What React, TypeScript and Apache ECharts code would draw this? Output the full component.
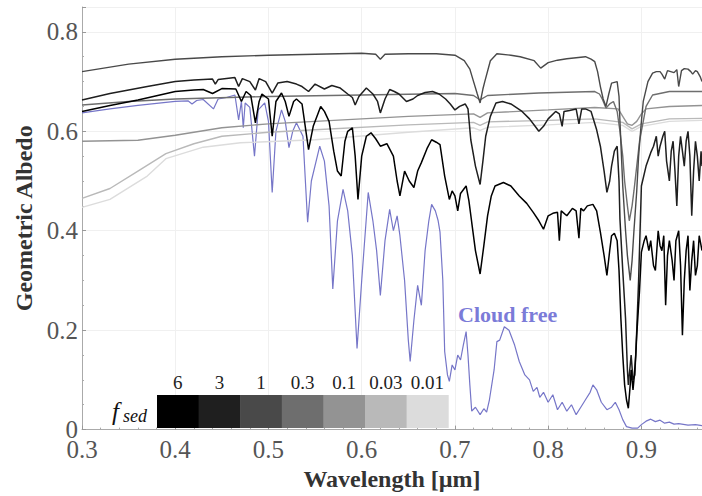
import React, { useEffect, useRef } from "react";
import * as echarts from "echarts";

// [wavelength µm, geometric albedo]
const cloudFree: [number, number][] = [
  [0.30, 0.637], [0.33, 0.645], [0.36, 0.652], [0.40, 0.660], [0.414, 0.661], [0.418, 0.655], [0.423, 0.662],
  [0.43, 0.664], [0.441, 0.645], [0.446, 0.665], [0.455, 0.668], [0.464, 0.673], [0.468, 0.623], [0.471, 0.66],
  [0.473, 0.607], [0.475, 0.657], [0.48, 0.648], [0.485, 0.55], [0.489, 0.643], [0.496, 0.657], [0.50, 0.62],
  [0.504, 0.477], [0.508, 0.60], [0.514, 0.643], [0.518, 0.62], [0.522, 0.567], [0.526, 0.60], [0.53, 0.617],
  [0.537, 0.59], [0.542, 0.417], [0.546, 0.50], [0.555, 0.57], [0.56, 0.54], [0.565, 0.45], [0.569, 0.283],
  [0.574, 0.42], [0.58, 0.483], [0.585, 0.44], [0.59, 0.35], [0.595, 0.163], [0.60, 0.30], [0.607, 0.477],
  [0.612, 0.42], [0.616, 0.36], [0.62, 0.27], [0.625, 0.38], [0.63, 0.443], [0.634, 0.40], [0.638, 0.43],
  [0.641, 0.39], [0.646, 0.30], [0.65, 0.18], [0.652, 0.137], [0.656, 0.22], [0.66, 0.29], [0.664, 0.25],
  [0.668, 0.36], [0.672, 0.42], [0.675, 0.453], [0.679, 0.44], [0.682, 0.42], [0.684, 0.397], [0.687, 0.30],
  [0.689, 0.157], [0.692, 0.11], [0.694, 0.097], [0.697, 0.13], [0.70, 0.12], [0.703, 0.15], [0.706, 0.14],
  [0.709, 0.17], [0.712, 0.197], [0.714, 0.15], [0.716, 0.09], [0.718, 0.037], [0.722, 0.045], [0.727, 0.03],
  [0.731, 0.042], [0.734, 0.035], [0.737, 0.06], [0.742, 0.12], [0.745, 0.177], [0.748, 0.18], [0.753, 0.207],
  [0.758, 0.20], [0.764, 0.17], [0.769, 0.137], [0.775, 0.11], [0.78, 0.10], [0.784, 0.077], [0.788, 0.085],
  [0.791, 0.065], [0.795, 0.075], [0.80, 0.055], [0.805, 0.07], [0.81, 0.04], [0.815, 0.055], [0.82, 0.037],
  [0.825, 0.05], [0.83, 0.03], [0.835, 0.045], [0.84, 0.06], [0.845, 0.075], [0.848, 0.09], [0.852, 0.08],
  [0.857, 0.055], [0.863, 0.04], [0.868, 0.045], [0.872, 0.055], [0.876, 0.04], [0.88, 0.02], [0.884, 0.006],
  [0.89, 0.003], [0.896, 0.003], [0.90, 0.01], [0.905, 0.017], [0.91, 0.021], [0.915, 0.016], [0.92, 0.019],
  [0.925, 0.013], [0.93, 0.015], [0.935, 0.011], [0.94, 0.012], [0.95, 0.009], [0.958, 0.01], [0.965, 0.008],
];

const fsed6: [number, number][] = [
  [0.30, 0.640], [0.33, 0.652], [0.36, 0.663], [0.40, 0.680], [0.42, 0.683], [0.43, 0.684], [0.44, 0.676],
  [0.45, 0.686], [0.465, 0.685], [0.471, 0.660], [0.476, 0.680], [0.481, 0.672], [0.486, 0.617], [0.49, 0.66],
  [0.493, 0.675], [0.50, 0.665], [0.504, 0.590], [0.508, 0.66], [0.514, 0.677], [0.518, 0.66], [0.522, 0.630],
  [0.527, 0.66], [0.53, 0.665], [0.536, 0.655], [0.543, 0.563], [0.548, 0.61], [0.556, 0.650], [0.56, 0.64],
  [0.565, 0.62], [0.57, 0.56], [0.574, 0.52], [0.578, 0.51], [0.582, 0.58], [0.585, 0.60], [0.59, 0.607],
  [0.593, 0.55], [0.596, 0.463], [0.60, 0.55], [0.605, 0.59], [0.61, 0.597], [0.615, 0.585], [0.62, 0.57],
  [0.627, 0.575], [0.634, 0.55], [0.638, 0.50], [0.641, 0.47], [0.646, 0.52], [0.651, 0.50], [0.656, 0.487],
  [0.66, 0.52], [0.664, 0.537], [0.67, 0.565], [0.675, 0.583], [0.68, 0.578], [0.684, 0.573], [0.689, 0.51],
  [0.694, 0.463], [0.697, 0.48], [0.70, 0.47], [0.703, 0.44], [0.706, 0.475], [0.712, 0.49], [0.715, 0.46],
  [0.718, 0.417], [0.722, 0.36], [0.727, 0.313], [0.731, 0.37], [0.735, 0.43], [0.739, 0.47], [0.743, 0.49],
  [0.752, 0.497], [0.76, 0.49], [0.769, 0.47], [0.777, 0.455], [0.784, 0.437], [0.79, 0.42], [0.795, 0.403],
  [0.80, 0.43], [0.805, 0.435], [0.81, 0.437], [0.812, 0.38], [0.814, 0.44], [0.82, 0.43], [0.826, 0.445],
  [0.83, 0.44], [0.833, 0.385], [0.835, 0.445], [0.838, 0.44], [0.842, 0.45], [0.848, 0.453], [0.852, 0.44],
  [0.856, 0.397], [0.86, 0.35], [0.863, 0.31], [0.866, 0.36], [0.868, 0.39], [0.871, 0.395], [0.874, 0.38],
  [0.876, 0.32], [0.878, 0.223], [0.88, 0.15], [0.882, 0.09], [0.884, 0.06], [0.886, 0.043], [0.888, 0.09],
  [0.889, 0.12], [0.891, 0.08], [0.892, 0.10], [0.894, 0.15], [0.895, 0.19], [0.898, 0.28], [0.90, 0.357],
  [0.903, 0.38], [0.905, 0.39], [0.908, 0.36], [0.91, 0.38], [0.913, 0.33], [0.915, 0.32], [0.918, 0.40],
  [0.92, 0.37], [0.922, 0.36], [0.924, 0.39], [0.926, 0.25], [0.928, 0.35], [0.93, 0.38], [0.933, 0.34],
  [0.935, 0.30], [0.937, 0.38], [0.94, 0.40], [0.942, 0.33], [0.944, 0.19], [0.946, 0.30], [0.948, 0.36],
  [0.95, 0.39], [0.952, 0.28], [0.954, 0.34], [0.956, 0.38], [0.958, 0.31], [0.96, 0.33], [0.962, 0.39],
  [0.965, 0.36],
];

const fsed3: [number, number][] = [
  [0.30, 0.663], [0.33, 0.676], [0.37, 0.690], [0.40, 0.700], [0.42, 0.703], [0.44, 0.705], [0.443, 0.695],
  [0.446, 0.704], [0.455, 0.706], [0.464, 0.708], [0.468, 0.69], [0.472, 0.706], [0.48, 0.70], [0.486, 0.683],
  [0.49, 0.706], [0.497, 0.70], [0.504, 0.677], [0.51, 0.697], [0.52, 0.70], [0.53, 0.695], [0.536, 0.69],
  [0.543, 0.68], [0.55, 0.695], [0.56, 0.685], [0.568, 0.692], [0.577, 0.687], [0.585, 0.675], [0.59, 0.668],
  [0.593, 0.653], [0.597, 0.67], [0.605, 0.687], [0.612, 0.675], [0.617, 0.66], [0.62, 0.637], [0.625, 0.665],
  [0.63, 0.684], [0.635, 0.68], [0.64, 0.675], [0.648, 0.66], [0.655, 0.665], [0.66, 0.672], [0.668, 0.678],
  [0.676, 0.68], [0.683, 0.675], [0.69, 0.665], [0.695, 0.655], [0.70, 0.643], [0.705, 0.65], [0.711, 0.655],
  [0.714, 0.645], [0.717, 0.583], [0.722, 0.53], [0.727, 0.493], [0.73, 0.54], [0.733, 0.59], [0.738, 0.63],
  [0.744, 0.657], [0.751, 0.66], [0.76, 0.655], [0.772, 0.64], [0.78, 0.625], [0.786, 0.61], [0.79, 0.60],
  [0.795, 0.61], [0.80, 0.625], [0.808, 0.64], [0.812, 0.635], [0.815, 0.61], [0.817, 0.64], [0.823, 0.642],
  [0.83, 0.645], [0.833, 0.615], [0.836, 0.645], [0.84, 0.645], [0.846, 0.64], [0.852, 0.603], [0.856, 0.57],
  [0.86, 0.52], [0.863, 0.477], [0.866, 0.50], [0.868, 0.53], [0.871, 0.56], [0.874, 0.57], [0.876, 0.50],
  [0.877, 0.423], [0.88, 0.32], [0.883, 0.223], [0.885, 0.12], [0.886, 0.09], [0.888, 0.13], [0.889, 0.15],
  [0.891, 0.10], [0.893, 0.11], [0.895, 0.20], [0.897, 0.30], [0.90, 0.49], [0.905, 0.53], [0.91, 0.557],
  [0.913, 0.57], [0.916, 0.59], [0.918, 0.55], [0.92, 0.57], [0.923, 0.59], [0.925, 0.60], [0.927, 0.54],
  [0.93, 0.50], [0.932, 0.56], [0.934, 0.58], [0.936, 0.52], [0.938, 0.45], [0.94, 0.55], [0.942, 0.59],
  [0.944, 0.56], [0.946, 0.53], [0.948, 0.58], [0.95, 0.60], [0.952, 0.55], [0.954, 0.43], [0.956, 0.52],
  [0.958, 0.58], [0.96, 0.55], [0.962, 0.50], [0.964, 0.56], [0.965, 0.53],
];

const fsed1: [number, number][] = [
  [0.30, 0.720], [0.35, 0.735], [0.40, 0.745], [0.45, 0.750], [0.50, 0.753], [0.55, 0.755], [0.60, 0.757],
  [0.615, 0.755], [0.62, 0.745], [0.625, 0.755], [0.65, 0.756], [0.68, 0.756], [0.70, 0.753], [0.71, 0.742],
  [0.716, 0.725], [0.72, 0.700], [0.724, 0.675], [0.727, 0.657], [0.73, 0.685], [0.732, 0.700], [0.738, 0.742],
  [0.745, 0.756], [0.76, 0.753], [0.77, 0.750], [0.785, 0.742], [0.792, 0.727], [0.80, 0.738], [0.81, 0.743],
  [0.82, 0.746], [0.83, 0.748], [0.84, 0.750], [0.846, 0.745], [0.85, 0.740], [0.853, 0.72], [0.856, 0.690],
  [0.859, 0.665], [0.862, 0.650], [0.865, 0.675], [0.868, 0.697], [0.874, 0.700], [0.876, 0.67], [0.877, 0.62],
  [0.88, 0.49], [0.883, 0.40], [0.885, 0.35], [0.888, 0.30], [0.89, 0.34], [0.892, 0.40], [0.895, 0.48],
  [0.897, 0.55], [0.90, 0.62], [0.902, 0.66], [0.907, 0.70], [0.912, 0.717], [0.916, 0.72], [0.92, 0.72],
  [0.922, 0.715], [0.925, 0.705], [0.928, 0.722], [0.935, 0.718], [0.938, 0.724], [0.94, 0.69], [0.943, 0.722],
  [0.946, 0.726], [0.95, 0.725], [0.953, 0.72], [0.955, 0.715], [0.958, 0.722], [0.96, 0.72], [0.963, 0.71],
  [0.965, 0.70],
];

const fsed03: [number, number][] = [
  [0.30, 0.653], [0.35, 0.660], [0.40, 0.665], [0.50, 0.670], [0.60, 0.673], [0.70, 0.676], [0.72, 0.672],
  [0.727, 0.663], [0.735, 0.672], [0.79, 0.677], [0.85, 0.680], [0.855, 0.675], [0.858, 0.665], [0.862, 0.647],
  [0.866, 0.655], [0.87, 0.66], [0.874, 0.64], [0.877, 0.60], [0.88, 0.55], [0.882, 0.50], [0.885, 0.45],
  [0.887, 0.42], [0.89, 0.45], [0.892, 0.48], [0.895, 0.53], [0.898, 0.58], [0.902, 0.62], [0.905, 0.65],
  [0.912, 0.673], [0.93, 0.68], [0.965, 0.68],
];

const fsed01: [number, number][] = [
  [0.30, 0.580], [0.36, 0.582], [0.40, 0.592], [0.45, 0.607], [0.50, 0.615], [0.55, 0.620], [0.65, 0.630],
  [0.72, 0.635], [0.727, 0.628], [0.735, 0.637], [0.80, 0.643], [0.85, 0.648], [0.875, 0.645], [0.88, 0.63],
  [0.885, 0.615], [0.89, 0.612], [0.895, 0.62], [0.90, 0.635], [0.905, 0.645], [0.93, 0.650], [0.965, 0.652],
];

const fsed003: [number, number][] = [
  [0.30, 0.465], [0.33, 0.485], [0.36, 0.520], [0.39, 0.555], [0.42, 0.575], [0.45, 0.590], [0.50, 0.598],
  [0.55, 0.603], [0.65, 0.613], [0.72, 0.618], [0.727, 0.612], [0.735, 0.619], [0.80, 0.622], [0.85, 0.625],
  [0.88, 0.618], [0.89, 0.605], [0.90, 0.615], [0.93, 0.625], [0.965, 0.626],
];

const fsed001: [number, number][] = [
  [0.30, 0.447], [0.33, 0.463], [0.37, 0.510], [0.39, 0.545], [0.43, 0.568], [0.47, 0.577], [0.55, 0.583],
  [0.65, 0.598], [0.72, 0.607], [0.727, 0.602], [0.735, 0.608], [0.80, 0.613], [0.85, 0.618], [0.88, 0.612],
  [0.89, 0.600], [0.90, 0.610], [0.93, 0.620], [0.965, 0.622],
];

const fsedLabels = ["6", "3", "1", "0.3", "0.1", "0.03", "0.01"];
const fsedColors = ["#000000", "#1f1f1f", "#494949", "#6e6e6e", "#939393", "#b9b9b9", "#dcdcdc"];
const fsedSeries = [fsed6, fsed3, fsed1, fsed03, fsed01, fsed003, fsed001];
const xTicks = [0.3, 0.4, 0.5, 0.6, 0.7, 0.8, 0.9];
const yTicks = [0, 0.2, 0.4, 0.6, 0.8];

const FONT = "'Liberation Serif', 'DejaVu Serif', serif";
const BLUE = "#7676c8";

export default function App() {
  const ref = useRef<HTMLDivElement>(null);
  useEffect(() => {
    if (!ref.current) return;
    const chart = echarts.init(ref.current, null, { renderer: "svg" });

    const series: any[] = [];
    series.push({
      type: "line",
      name: "Cloud free",
      data: cloudFree,
      showSymbol: false,
      symbol: "none",
      lineStyle: { color: BLUE, width: 1.2 },
      z: 1,
    });
    // draw lightest first
    for (let i = fsedSeries.length - 1; i >= 0; i--) {
      series.push({
        type: "line",
        name: "fsed " + fsedLabels[i],
        data: fsedSeries[i],
        showSymbol: false,
        symbol: "none",
        lineStyle: { color: fsedColors[i], width: i <= 1 ? 1.5 : 1.4 },
        z: 2 + (fsedSeries.length - i),
      });
    }

    const cellW = 41.6;
    const legLeft = 157;
    const legTop = 395;
    const legendEls: any[] = [];
    fsedLabels.forEach((lab, i) => {
      legendEls.push({
        type: "rect",
        shape: { x: legLeft + i * cellW, y: legTop, width: cellW + 0.5, height: 33 },
        style: { fill: fsedColors[i] },
        z: 100,
      });
      legendEls.push({
        type: "text",
        x: legLeft + i * cellW + cellW / 2,
        y: 382,
        style: {
          text: lab,
          font: `19px ${FONT}`,
          fill: "#222",
          align: "center",
          verticalAlign: "middle",
        },
        z: 100,
      });
    });
    legendEls.push({
      type: "text",
      x: 112,
      y: 424,
      style: { text: "f", font: `italic 25px ${FONT}`, fill: "#111", align: "left", verticalAlign: "bottom" },
      z: 100,
    });
    legendEls.push({
      type: "text",
      x: 123,
      y: 425,
      style: { text: "sed", font: `italic 18px ${FONT}`, fill: "#111", align: "left", verticalAlign: "bottom" },
      z: 100,
    });
    legendEls.push({
      type: "text",
      x: 458,
      y: 314,
      style: { text: "Cloud free", font: `bold 22px ${FONT}`, fill: "#7b7bd8", align: "left", verticalAlign: "middle" },
      z: 100,
    });

    chart.setOption({
      animation: false,
      backgroundColor: "#ffffff",
      grid: { left: 82, right: 0, top: 7, bottom: 64, containLabel: false },
      xAxis: {
        type: "value",
        min: 0.3,
        max: 0.965,
        interval: 0.1,
        name: "Wavelength [µm]",
        nameLocation: "middle",
        nameGap: 36,
        nameTextStyle: { fontFamily: FONT, fontWeight: "bold", fontSize: 24, color: "#333" },
        axisLine: { show: true, onZero: false, lineStyle: { color: "#aaa", width: 1 } },
        axisTick: { show: true, inside: true, length: 4, lineStyle: { color: "#999" } },
        minorTick: { show: true, splitNumber: 5, length: 2, lineStyle: { color: "#aaa" } },
        splitLine: { show: true, lineStyle: { color: "#f0f0f0", width: 1 } },
        axisLabel: {
          fontFamily: FONT,
          fontSize: 25,
          lineHeight: 20,
          color: "#555",
          margin: 10,
          showMaxLabel: false,
          formatter: (v: number) => {
            const r = Math.round(v * 10) / 10;
            return xTicks.some((t) => Math.abs(t - r) < 1e-6) && Math.abs(v - r) < 1e-6 ? r.toFixed(1) : "";
          },
        },
      },
      yAxis: {
        type: "value",
        min: 0,
        max: 0.85,
        interval: 0.2,
        name: "Geometric Albedo",
        nameLocation: "middle",
        nameGap: 38,
        nameTextStyle: { fontFamily: FONT, fontWeight: "bold", fontSize: 24, color: "#333" },
        axisLine: { show: true, lineStyle: { color: "#aaa", width: 1 } },
        axisTick: { show: true, inside: true, length: 4, lineStyle: { color: "#999" } },
        minorTick: { show: true, splitNumber: 4, length: 2, lineStyle: { color: "#aaa" } },
        splitLine: { show: true, lineStyle: { color: "#f0f0f0", width: 1 } },
        axisLabel: {
          fontFamily: FONT,
          fontSize: 25,
          lineHeight: 20,
          color: "#555",
          margin: 4,
          showMaxLabel: false,
          formatter: (v: number) => {
            const r = Math.round(v * 10) / 10;
            if (!yTicks.some((t) => Math.abs(t - r) < 1e-6)) return "";
            return r === 0 ? "0" : r.toFixed(1);
          },
        },
      },
      series,
      graphic: legendEls,
    });
    return () => chart.dispose();
  }, []);
  return (
    <div
      ref={ref}
      style={{ position: "fixed", left: 0, top: 0, width: 702, height: 496, background: "#fff" }}
    />
  );
}
